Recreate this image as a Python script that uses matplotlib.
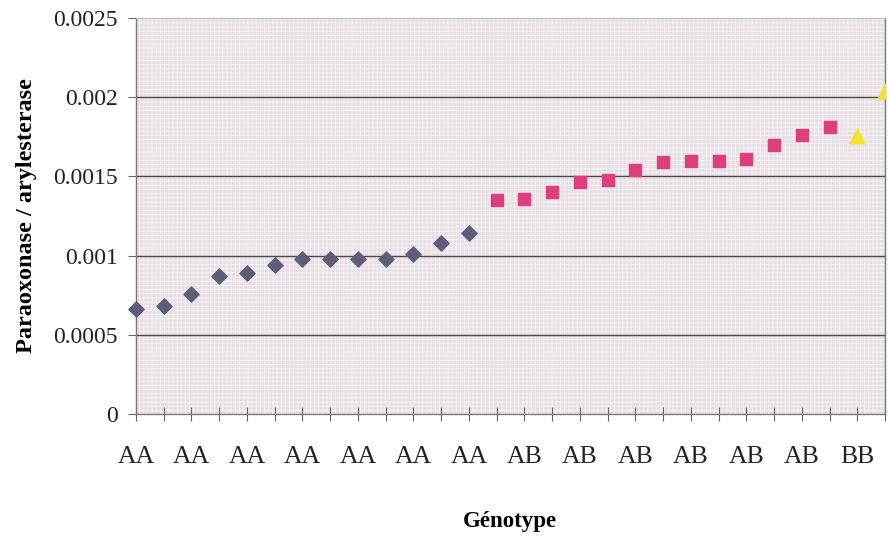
import matplotlib
import matplotlib.pyplot as plt
from matplotlib.patches import Rectangle
matplotlib.use('Agg')

# DATA
aa_pos = list(range(1, 14))
aa_values = [0.000665, 0.00068, 0.00076, 0.00087, 0.00089, 0.00094, 0.00098,
             0.00098, 0.00098, 0.00098, 0.00101, 0.00108, 0.00114]
ab_pos = list(range(14, 27))
ab_values = [0.001354, 0.00136, 0.0014, 0.001464, 0.001477, 0.00154, 0.00159,
             0.0016, 0.0016, 0.00161, 0.0017, 0.00176, 0.00181]
bb_pos = [27, 28]
bb_values = [0.001755, 0.00204]

tick_pos = list(range(1, 29))
label_pos = list(range(1, 28, 2))
label_text = ['AA'] * 7 + ['AB'] * 6 + ['BB']
y_ticks = [0, 0.0005, 0.001, 0.0015, 0.002, 0.0025]
y_labels = ['0', '0.0005', '0.001', '0.0015', '0.002', '0.0025']

plt.rcParams['font.family'] = ['Liberation Serif', 'DejaVu Serif']
plt.rcParams['hatch.linewidth'] = 0.7

fig = plt.figure(figsize=(8.9, 5.37), dpi=100, facecolor='w')
ax = fig.add_axes([0.1528, 0.229, 0.8416, 0.7375])
ax.set_facecolor('#e5dee3')

# scanned texture
tex = Rectangle((0, 0), 1, 1, transform=ax.transAxes, facecolor='none',
                edgecolor='#f4f0f3', hatch='++++', linewidth=0, zorder=0.5)
ax.add_patch(tex)

for v in y_ticks[1:-1]:
    ax.axhline(v, color='#4a4a4a', linewidth=1, zorder=1)

ax.scatter(aa_pos, aa_values, marker='D', s=60, color='#5e5e78', zorder=3, clip_on=False)
ax.scatter(ab_pos, ab_values, marker='s', s=80, color='#dc3f7c', zorder=3, clip_on=False)
ax.scatter(bb_pos, bb_values, marker='^', s=110, color='#f2e22c', zorder=3, clip_on=True)

ax.set_xlim(1, 28)
ax.set_ylim(0, 0.0025)
ax.set_xticks(tick_pos)
ax.set_xticklabels([''] * len(tick_pos))
for p, t in zip(label_pos, label_text):
    ax.text(p, -0.0002, t, ha='center', va='top', fontsize=18.5, color='#222222')
ax.set_yticks(y_ticks)
ax.set_yticklabels(y_labels, fontsize=17, color='#222222')

ax.tick_params(axis='x', direction='inout', length=10, width=0.8, color='#666666')
ax.tick_params(axis='y', direction='out', length=6, width=0.8, color='#666666', pad=7)

for side in ['left', 'right', 'bottom']:
    ax.spines[side].set_color('#7a7a7a')
    ax.spines[side].set_linewidth(1)
ax.spines['top'].set_color('#bbbbbb')
ax.spines['top'].set_linewidth(0.8)

ax.set_ylabel('Paraoxonase / arylesterase', fontsize=17.5, fontweight='bold')
ax.yaxis.set_label_coords(-0.132, 0.5)
fig.text(0.573, 0.01, 'Génotype', ha='center', va='bottom', fontsize=16.5, fontweight='bold')

fig.savefig('out.png')
plt.close(fig)
